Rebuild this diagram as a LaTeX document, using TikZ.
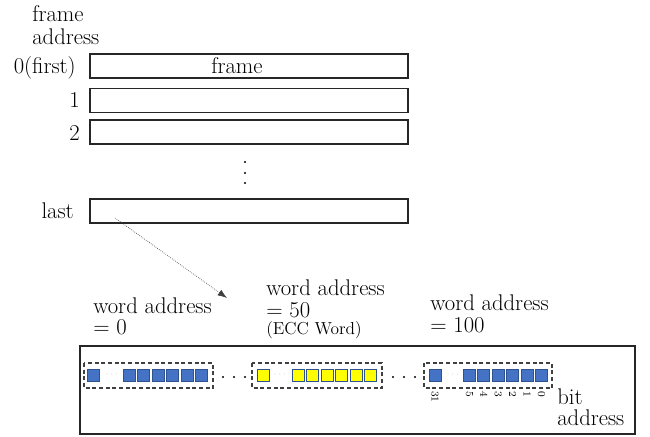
\documentclass[tikz,border=0pt]{standalone}
\usetikzlibrary{positioning,arrows.meta}
\definecolor{bitblue}{HTML}{4472C4}
\definecolor{bitedge}{HTML}{2F528F}
\definecolor{eccyellow}{HTML}{FFFF00}
\tikzset{
	framebox/.style={draw=black!85, line width=0.9pt, minimum width=238.5pt, minimum height=18pt, inner sep=0pt},
	bluebit/.style={draw=bitedge, fill=bitblue, line width=0.7pt, minimum size=9pt, inner sep=0pt},
	yellowbit/.style={draw=bitedge, fill=eccyellow, line width=0.7pt, minimum size=9pt, inner sep=0pt},
	wordbox/.style={draw=black!75, line width=0.9pt, dash pattern=on 3pt off 2pt},
	bignum/.style={font=\fontsize{17}{17}\selectfont, inner sep=0pt},
	bitnum/.style={font=\fontsize{8}{8}\selectfont, inner sep=0pt, rotate=-90, anchor=west},
	faintdots/.style={font=\fontsize{6}{6}\selectfont, text=black!30, inner sep=0pt}
}
\begin{document}
\begin{tikzpicture}[x=0.75pt, y=-0.75pt]
			%%%%% START %%%%%
			\useasboundingbox (0,0) rectangle (650,436);
			
			% frames
			\node[bignum, anchor=north west, align=left, font=\fontsize{17}{17.25}\selectfont] (frametitle) at (32,5.3) {frame\\address};
			\node[framebox] (frame0) at (249,66) {};
			\node[framebox] (frame1) at (249,100.5) {};
			\node[framebox] (frame2) at (249,132) {};
			\node[framebox] (framelast) at (249,211) {};
			\node[bignum, anchor=base] (frametext) at (237,73) {frame};
			
			\node[bignum, anchor=base east] (lab0) at (76,73) {0(first)};
			\node[bignum, anchor=base east] (lab1) at (80,107) {1};
			\node[bignum, anchor=base east] (lab2) at (80,140) {2};
			\node[bignum, anchor=base east] (lablast) at (74,218) {last};
			
			\fill (245,162) circle (0.8pt);
			\fill (245,173) circle (0.8pt);
			\fill (245,183) circle (0.8pt);
			
			% arrow to the words
			\coordinate (arrowtail) at (115,218);
			\coordinate (arrowtip) at (227,298);
			\draw[densely dotted, line width=0.5pt, color=black!75, -{Latex[length=7pt,width=5pt]}] (arrowtail) -- (arrowtip);
			
			% word labels
			\node[bignum, anchor=north west, align=left, font=\fontsize{17}{15.75}\selectfont] (word0) at (93,297.3) {word address\\= 0};
			\node[bignum, anchor=north west, align=left, font=\fontsize{17}{16.5}\selectfont] (word50) at (266,279.3) {word address\\= 50\\[-3.5pt]{\fontsize{13}{13}\selectfont (ECC Word)}};
			\node[bignum, anchor=north west, align=left, font=\fontsize{17}{16.5}\selectfont] (word100) at (430,294.3) {word address\\= 100};
			
			% memory
			\draw[line width=0.9pt, color=black!85] (80,346) rectangle (635,434);
			
			\draw[wordbox] (84,363) rectangle (213,388);
			\draw[wordbox] (252,363) rectangle (382,388);
			\draw[wordbox] (424,363) rectangle (552,388);
			
			\node[bluebit] (wa31) at (93.5,375.5) {};
			\node[faintdots] at (112,375) {$\cdots$};
			\foreach \i in {0,...,5}
				\node[bluebit] (wa\i) at (129.5+14.4*\i,375.5) {};
			
			\node[yellowbit] (wb31) at (263.5,375.5) {};
			\node[faintdots] at (280,375) {$\cdots$};
			\foreach \i in {0,...,5}
				\node[yellowbit] (wb\i) at (298.5+14.4*\i,375.5) {};
			
			\node[bluebit] (wc31) at (435,375.5) {};
			\node[faintdots] at (453,375) {$\cdots$};
			\foreach \i in {0,...,5}
				\node[bluebit] (wc\i) at (469.5+14.4*\i,375.5) {};
			
			\fill (223,377) circle (0.8pt);
			\fill (234,377) circle (0.8pt);
			\fill (245,377) circle (0.8pt);
			\fill (393,377) circle (0.8pt);
			\fill (404,377) circle (0.8pt);
			\fill (415,377) circle (0.8pt);
			
			% bit numbers
			\node[bitnum] at (435,391) {31};
			\foreach \i/\b in {0/5,1/4,2/3,3/2,4/1,5/0}
				\node[bitnum] at (469.5+14.4*\i,391) {\b};
			
			\node[bignum, anchor=north west, align=left, font=\fontsize{17}{16}\selectfont] (bitaddr) at (557,388.3) {bit\\address};
			
			%%%%% END %%%%%
\end{tikzpicture}
\end{document}
